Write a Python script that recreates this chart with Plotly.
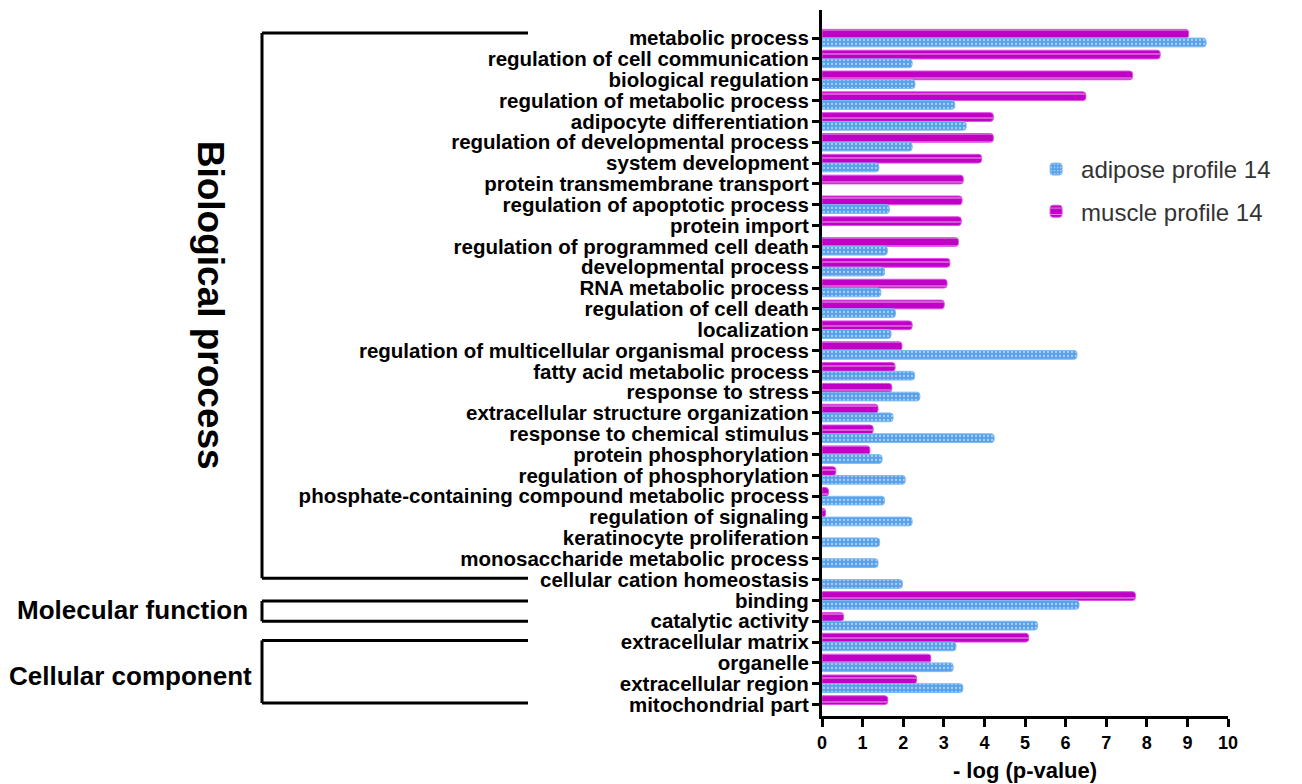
import plotly.graph_objects as go

categories = [
    "metabolic process",
    "regulation of cell communication",
    "biological regulation",
    "regulation of metabolic process",
    "adipocyte differentiation",
    "regulation of developmental process",
    "system development",
    "protein transmembrane transport",
    "regulation of apoptotic process",
    "protein import",
    "regulation of programmed cell death",
    "developmental process",
    "RNA metabolic process",
    "regulation of cell death",
    "localization",
    "regulation of multicellular organismal process",
    "fatty acid metabolic process",
    "response to stress",
    "extracellular structure organization",
    "response to chemical stimulus",
    "protein phosphorylation",
    "regulation of phosphorylation",
    "phosphate-containing compound metabolic process",
    "regulation of signaling",
    "keratinocyte proliferation",
    "monosaccharide metabolic process",
    "cellular cation homeostasis",
    "binding",
    "catalytic activity",
    "extracellular matrix",
    "organelle",
    "extracellular region",
    "mitochondrial part",
]

adipose = [9.46, 2.22, 2.29, 3.27, 3.55, 2.22, 1.40, None, 1.66, None,
           1.61, 1.54, 1.45, 1.81, 1.70, 6.28, 2.28, 2.41, 1.75, 4.24,
           1.48, 2.05, 1.54, 2.22, 1.42, 1.38, 1.98, 6.33, 5.31, 3.30,
           3.23, 3.47, None]

muscle = [9.03, 8.33, 7.65, 6.50, 4.22, 4.22, 3.93, 3.48, 3.45, 3.43,
          3.36, 3.15, 3.08, 3.01, 2.22, 1.97, 1.80, 1.72, 1.38, 1.26,
          1.18, 0.34, 0.16, 0.09, None, None, None, 7.72, 0.53, 5.09,
          2.68, 2.33, 1.62]

x_ticks = [0, 1, 2, 3, 4, 5, 6, 7, 8, 9, 10]

BLUE = "#58A0EA"
MAGENTA = "#C000C4"
FONT = "Liberation Sans, Arial, sans-serif"

# page body has an 8px margin, so the figure is placed 8px in from the top-left
OFF = 8
W, H = 1302 - OFF, 784 - OFF
L, R = 822 - OFF, 1228 - OFF
T, B = 10 - OFF, 716 - OFF

fig = go.Figure()
fig.add_bar(
    y=categories, x=muscle, orientation="h", name="muscle profile 14",
    legendrank=2, legendgroup="m",
    marker=dict(color=MAGENTA, line=dict(color="#E04CEA", width=1), cornerradius=3,
                pattern=dict(shape="-", fgcolor="white", fgopacity=0.55, size=8, solidity=0.15)),
)
fig.add_bar(
    y=categories, x=adipose, orientation="h", name="adipose profile 14",
    legendrank=1, legendgroup="a",
    marker=dict(color=BLUE, line=dict(color="#7DBAF2", width=1), cornerradius=3,
                pattern=dict(shape=".", fgcolor="white", fgopacity=0.5, size=4, solidity=0.25)),
)


def px(x):
    return (x - OFF - L) / (R - L)


shapes = []
annotations = []
line = dict(color="black", width=3)
bx, bend = px(262), px(528)
# bracket extents in category units
spans = [(-0.24, 25.93), (27.03, 28.0), (28.92, 31.93)]
for (y0, y1) in spans:
    shapes.append(dict(type="line", xref="paper", yref="y", x0=bx, x1=bx, y0=y0, y1=y1, line=line))
    shapes.append(dict(type="line", xref="paper", yref="y", x0=bx, x1=bend, y0=y0, y1=y0, line=line))
    shapes.append(dict(type="line", xref="paper", yref="y", x0=bx, x1=bend, y0=y1, y1=y1, line=line))

annotations.append(dict(text="Biological process", xref="paper", yref="y", x=px(210), y=12.8,
                        textangle=90, showarrow=False, xanchor="center", yanchor="middle",
                        font=dict(family=FONT, size=37, color="black", weight="bold")))
annotations.append(dict(text="Molecular function", xref="paper", yref="y", x=px(250), y=27.45,
                        showarrow=False, xanchor="right", yanchor="middle",
                        font=dict(family=FONT, size=26, color="black", weight="bold")))
annotations.append(dict(text="Cellular component", xref="paper", yref="y", x=px(254), y=30.65,
                        showarrow=False, xanchor="right", yanchor="middle",
                        font=dict(family=FONT, size=26, color="black", weight="bold")))

fig.update_layout(
    width=W, height=H,
    margin=dict(l=L, r=W - R, t=T, b=H - B, autoexpand=False),
    paper_bgcolor="white", plot_bgcolor="white",
    barmode="group", bargap=0.16, bargroupgap=0.0,
    showlegend=True,
    legend=dict(x=0.515, y=0.806, xanchor="left", yanchor="top",
                traceorder="grouped", tracegroupgap=8, itemwidth=40,
                font=dict(family=FONT, size=24, color="#333333"),
                bgcolor="rgba(0,0,0,0)"),
    shapes=shapes, annotations=annotations,
    xaxis=dict(range=[0, 10], tickvals=x_ticks, ticktext=[str(t) for t in x_ticks],
               showline=True, linecolor="black", linewidth=3, mirror=False,
               ticks="outside", ticklen=8, tickwidth=3, tickcolor="black",
               showgrid=False, zeroline=False,
               tickfont=dict(family=FONT, size=18, color="black", weight="bold"),
               title=dict(text="- log (p-value)", standoff=12,
                          font=dict(family=FONT, size=22, color="black", weight="bold"))),
    yaxis=dict(type="category", categoryorder="array", categoryarray=categories,
               range=[32.55, -1.35], tickmode="linear", tick0=0, dtick=1,
               showline=True, linecolor="black", linewidth=3,
               ticks="outside", ticklen=7, tickwidth=3, tickcolor="black",
               showgrid=False, zeroline=False, ticklabelstandoff=-1,
               tickfont=dict(family=FONT, size=20.5, color="black", weight="bold")),
)

fig.write_html("out.html")
